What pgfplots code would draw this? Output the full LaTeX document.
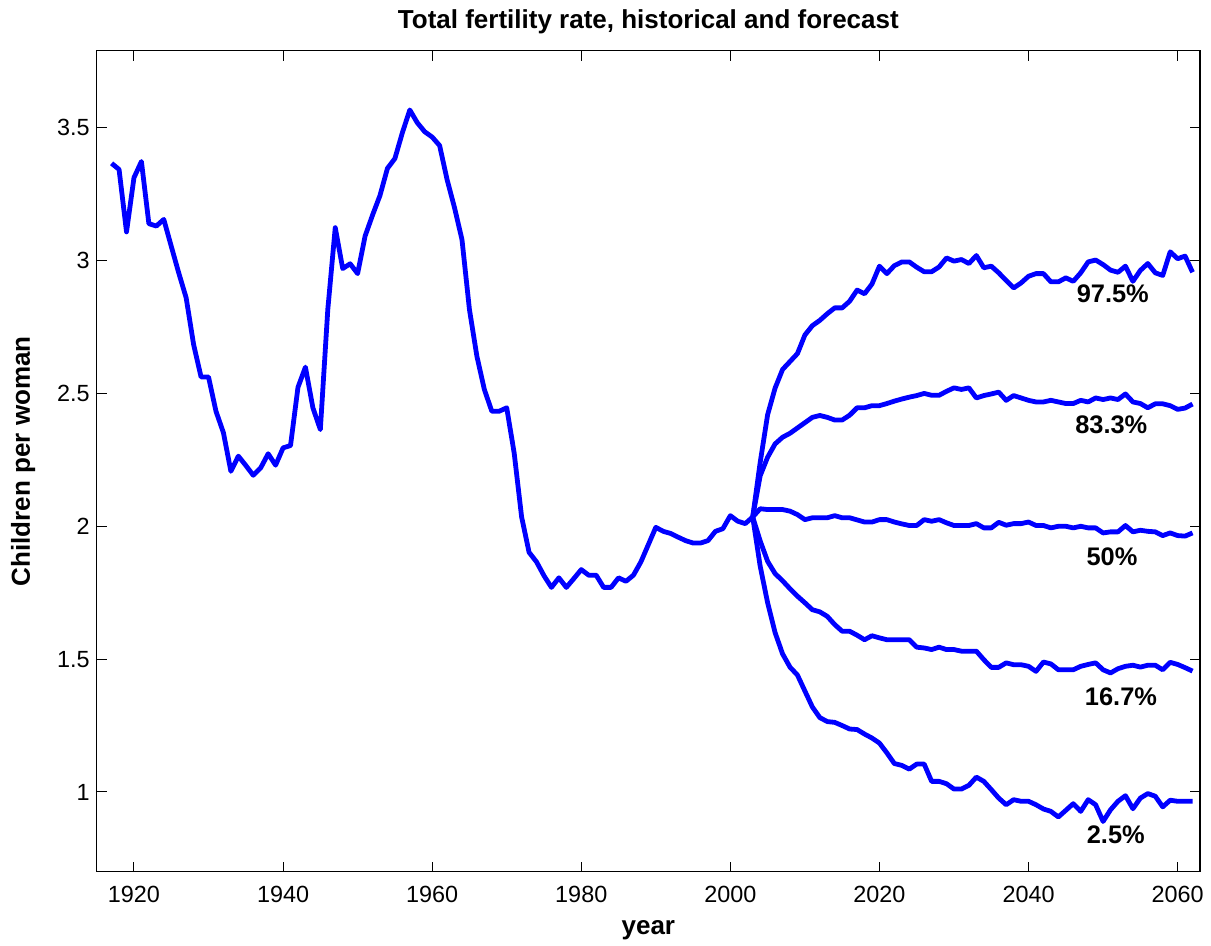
\documentclass[border=0pt]{standalone}
\usepackage{pgfplots}
\pgfplotsset{compat=1.18}
\usepackage{fontspec}
\setmainfont{Liberation Sans}

\definecolor{fanblue}{RGB}{0,0,255}
\tikzset{fanline/.style={color=fanblue, line width=2.4pt, line join=round, solid, mark=none}}

\begin{document}
\begin{tikzpicture}
\useasboundingbox (-48.35pt,-37.15pt) rectangle (557.15pt,435.85pt);
\begin{axis}[
    at={(0,0)}, anchor=south west,
    scale only axis, width=551.65pt, height=410.5pt,
    xmin=1915, xmax=2063, ymin=0.7, ymax=3.79,
    xtick={1920,1940,1960,1980,2000,2020,2040,2060},
    ytick={1,1.5,2,2.5,3,3.5},
    tick align=inside, major tick length=5pt,
    tick style={black, line width=0.5pt},
    axis line style={black, line width=0.6pt},
    /pgf/number format/assume math mode=true,
    tick label style={font=\fontsize{11.7}{14}\selectfont},
    xticklabel style={/pgf/number format/1000 sep={}, anchor=base, yshift=-15.2pt},
    title={Total fertility rate, historical and forecast},
    title style={font=\bfseries\fontsize{13}{15}\selectfont, at={(axis description cs:0.5,1.012)}, anchor=base},
    xlabel={year},
    xlabel style={font=\bfseries\fontsize{13}{15}\selectfont, at={(axis description cs:0.5,-0.0771)}, anchor=base},
    ylabel={Children per woman},
    ylabel style={font=\bfseries\fontsize{13}{15}\selectfont, at={(axis description cs:-0.0605,0.5)}, anchor=base},
]
% historical
\addplot[fanline] coordinates {
(1917,3.366) (1918,3.343) (1919,3.108) (1920,3.312) (1921,3.373) (1922,3.139)
(1923,3.130) (1924,3.155) (1925,3.054) (1926,2.954) (1927,2.860) (1928,2.684)
(1929,2.562) (1930,2.562) (1931,2.433) (1932,2.352) (1933,2.207) (1934,2.264)
(1935,2.229) (1936,2.192) (1937,2.220) (1938,2.273) (1939,2.230) (1940,2.295)
(1941,2.304) (1942,2.523) (1943,2.599) (1944,2.446) (1945,2.364) (1946,2.816)
(1947,3.124) (1948,2.970) (1949,2.988) (1950,2.951) (1951,3.092) (1952,3.171)
(1953,3.245) (1954,3.347) (1955,3.384) (1956,3.481) (1957,3.567) (1958,3.519)
(1959,3.485) (1960,3.465) (1961,3.433) (1962,3.305) (1963,3.199) (1964,3.079)
(1965,2.816) (1966,2.640) (1967,2.515) (1968,2.433) (1969,2.433) (1970,2.446)
(1971,2.276) (1972,2.035) (1973,1.902) (1974,1.866) (1975,1.814) (1976,1.770)
(1977,1.806) (1978,1.770) (1979,1.803) (1980,1.837) (1981,1.816) (1982,1.816)
(1983,1.770) (1984,1.770) (1985,1.806) (1986,1.793) (1987,1.816) (1988,1.866)
(1989,1.931) (1990,1.996) (1991,1.981) (1992,1.973) (1993,1.959) (1994,1.946)
(1995,1.937) (1996,1.937) (1997,1.946) (1998,1.981) (1999,1.991) (2000,2.040)
(2001,2.019) (2002,2.010) (2003,2.035)
};
% 97.5%
\addplot[fanline] coordinates {
(2003,2.035) (2004,2.240) (2005,2.420) (2006,2.520) (2007,2.590) (2008,2.620)
(2009,2.650) (2010,2.720) (2011,2.755) (2012,2.775) (2013,2.800) (2014,2.822)
(2015,2.822) (2016,2.847) (2017,2.889) (2018,2.875) (2019,2.912) (2020,2.979)
(2021,2.951) (2022,2.981) (2023,2.995) (2024,2.995) (2025,2.975) (2026,2.958)
(2027,2.958) (2028,2.976) (2029,3.010) (2030,2.998) (2031,3.004) (2032,2.989)
(2033,3.019) (2034,2.973) (2035,2.979) (2036,2.954) (2037,2.925) (2038,2.897)
(2039,2.916) (2040,2.941) (2041,2.951) (2042,2.951) (2043,2.920) (2044,2.920)
(2045,2.935) (2046,2.922) (2047,2.954) (2048,2.995) (2049,3.002) (2050,2.985)
(2051,2.964) (2052,2.956) (2053,2.979) (2054,2.922) (2055,2.963) (2056,2.989)
(2057,2.954) (2058,2.944) (2059,3.033) (2060,3.007) (2061,3.017) (2062,2.956)
};
% 83.3%
\addplot[fanline] coordinates {
(2003,2.035) (2004,2.190) (2005,2.260) (2006,2.310) (2007,2.335) (2008,2.350)
(2009,2.370) (2010,2.390) (2011,2.410) (2012,2.417) (2013,2.410) (2014,2.400)
(2015,2.400) (2016,2.418) (2017,2.446) (2018,2.446) (2019,2.454) (2020,2.454)
(2021,2.462) (2022,2.471) (2023,2.479) (2024,2.486) (2025,2.492) (2026,2.500)
(2027,2.493) (2028,2.493) (2029,2.508) (2030,2.521) (2031,2.515) (2032,2.521)
(2033,2.483) (2034,2.492) (2035,2.498) (2036,2.505) (2037,2.474) (2038,2.492)
(2039,2.483) (2040,2.474) (2041,2.468) (2042,2.468) (2043,2.474) (2044,2.468)
(2045,2.462) (2046,2.462) (2047,2.474) (2048,2.468) (2049,2.483) (2050,2.477)
(2051,2.483) (2052,2.477) (2053,2.498) (2054,2.468) (2055,2.462) (2056,2.446)
(2057,2.461) (2058,2.461) (2059,2.454) (2060,2.440) (2061,2.445) (2062,2.460)
};
% 50%
\addplot[fanline] coordinates {
(2003,2.035) (2004,2.066) (2005,2.063) (2006,2.063) (2007,2.063) (2008,2.057)
(2009,2.044) (2010,2.025) (2011,2.032) (2012,2.032) (2013,2.032) (2014,2.040)
(2015,2.032) (2016,2.032) (2017,2.024) (2018,2.016) (2019,2.016) (2020,2.025)
(2021,2.025) (2022,2.016) (2023,2.009) (2024,2.003) (2025,2.003) (2026,2.025)
(2027,2.019) (2028,2.025) (2029,2.013) (2030,2.003) (2031,2.003) (2032,2.003)
(2033,2.010) (2034,1.994) (2035,1.994) (2036,2.015) (2037,2.004) (2038,2.010)
(2039,2.010) (2040,2.016) (2041,2.003) (2042,2.003) (2043,1.994) (2044,2.000)
(2045,2.000) (2046,1.994) (2047,2.000) (2048,1.994) (2049,1.994) (2050,1.975)
(2051,1.979) (2052,1.979) (2053,2.003) (2054,1.979) (2055,1.985) (2056,1.981)
(2057,1.979) (2058,1.965) (2059,1.975) (2060,1.965) (2061,1.963) (2062,1.975)
};
% 16.7%
\addplot[fanline] coordinates {
(2003,2.035) (2004,1.945) (2005,1.868) (2006,1.822) (2007,1.795) (2008,1.765)
(2009,1.737) (2010,1.712) (2011,1.686) (2012,1.678) (2013,1.661) (2014,1.630)
(2015,1.605) (2016,1.605) (2017,1.590) (2018,1.573) (2019,1.588) (2020,1.580)
(2021,1.573) (2022,1.573) (2023,1.573) (2024,1.573) (2025,1.545) (2026,1.542)
(2027,1.536) (2028,1.545) (2029,1.536) (2030,1.536) (2031,1.530) (2032,1.530)
(2033,1.530) (2034,1.498) (2035,1.469) (2036,1.469) (2037,1.486) (2038,1.479)
(2039,1.479) (2040,1.473) (2041,1.454) (2042,1.489) (2043,1.482) (2044,1.460)
(2045,1.460) (2046,1.460) (2047,1.473) (2048,1.480) (2049,1.486) (2050,1.460)
(2051,1.448) (2052,1.464) (2053,1.473) (2054,1.477) (2055,1.470) (2056,1.477)
(2057,1.477) (2058,1.460) (2059,1.488) (2060,1.480) (2061,1.468) (2062,1.455)
};
% 2.5%
\addplot[fanline] coordinates {
(2003,2.035) (2004,1.850) (2005,1.712) (2006,1.600) (2007,1.520) (2008,1.470)
(2009,1.440) (2010,1.380) (2011,1.320) (2012,1.280) (2013,1.265) (2014,1.262)
(2015,1.250) (2016,1.237) (2017,1.235) (2018,1.218) (2019,1.203) (2020,1.184)
(2021,1.147) (2022,1.107) (2023,1.100) (2024,1.086) (2025,1.105) (2026,1.105)
(2027,1.040) (2028,1.040) (2029,1.031) (2030,1.011) (2031,1.011) (2032,1.025)
(2033,1.056) (2034,1.040) (2035,1.009) (2036,0.977) (2037,0.952) (2038,0.971)
(2039,0.965) (2040,0.965) (2041,0.952) (2042,0.936) (2043,0.927) (2044,0.906)
(2045,0.931) (2046,0.956) (2047,0.927) (2048,0.971) (2049,0.952) (2050,0.889)
(2051,0.933) (2052,0.965) (2053,0.986) (2054,0.937) (2055,0.977) (2056,0.994)
(2057,0.984) (2058,0.944) (2059,0.969) (2060,0.965) (2061,0.965) (2062,0.965)
};
\begin{scope}[every node/.style={font=\bfseries\fontsize{12.7}{15}\selectfont, text=black}]
\node at (axis cs:2051.3,2.876) {97.5\%};
\node at (axis cs:2051.1,2.381) {83.3\%};
\node at (axis cs:2051.2,1.884) {50\%};
\node at (axis cs:2052.4,1.357) {16.7\%};
\node at (axis cs:2051.7,0.839) {2.5\%};
\end{scope}
\end{axis}
\end{tikzpicture}
\end{document}
